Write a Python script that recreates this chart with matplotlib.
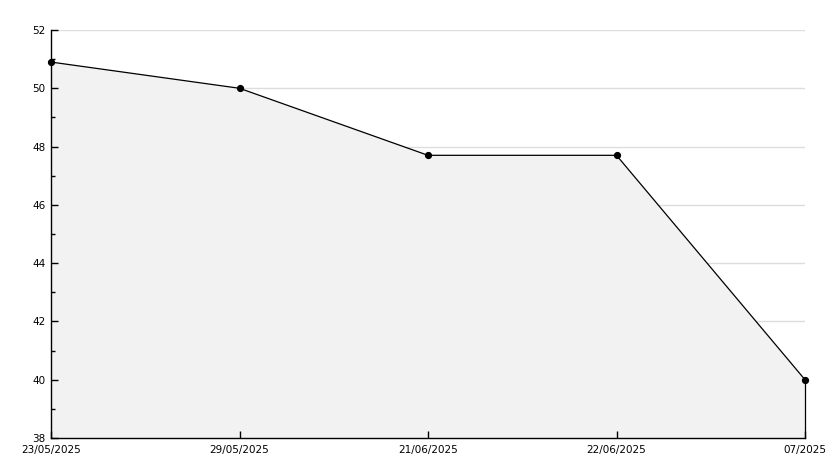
import matplotlib
matplotlib.use("Agg")
import matplotlib.pyplot as plt
from matplotlib.ticker import MultipleLocator

dates = ["23/05/2025", "29/05/2025", "21/06/2025", "22/06/2025", "07/2025"]
values = [50.9, 50.0, 47.7, 47.7, 40.0]
y_min, y_max = 38, 52
grid_levels = [40, 42, 44, 46, 48, 50, 52]

fig = plt.figure(figsize=(8.34, 4.68), dpi=100)
ax = fig.add_axes([51/834, 30/468, (805-51)/834, (438-30)/468])

x = list(range(len(dates)))
for g in grid_levels:
    ax.axhline(g, color="#dddddd", lw=1, zorder=0.5)
ax.fill_between(x, values, y_min, facecolor="#f2f2f2", edgecolor="none", zorder=1)
ax.plot([x[-1], x[-1]], [y_min, values[-1]], color="black", lw=0.9, zorder=2, clip_on=False)
ax.plot(x, values, color="black", lw=0.9, marker="o", ms=4.2, zorder=3, clip_on=False)

ax.set_xlim(x[0], x[-1])
ax.set_ylim(y_min, y_max)
ax.yaxis.set_major_locator(MultipleLocator(2))
ax.yaxis.set_minor_locator(MultipleLocator(1))
ax.set_xticks(x)
ax.set_xticklabels(dates)

for s in ["top", "right"]:
    ax.spines[s].set_visible(False)
for s in ["left", "bottom"]:
    ax.spines[s].set_linewidth(1)
    ax.spines[s].set_color("black")
    ax.spines[s].set_zorder(4)

ax.tick_params(axis="both", which="major", direction="in", length=5, width=1,
               labelsize=7.5, colors="black", pad=4)
ax.tick_params(axis="y", which="minor", direction="in", length=3, width=1)
ax.tick_params(axis="x", pad=5)

fig.savefig("out.png", dpi=100, facecolor="white")
